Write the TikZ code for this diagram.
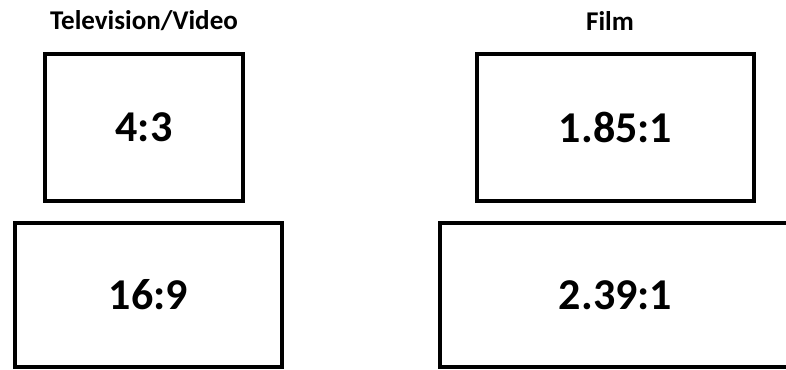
\documentclass[tikz,border=0pt]{standalone}
\usepackage{fontspec}
\setmainfont{Carlito}
\usetikzlibrary{positioning}

\begin{document}
\begin{tikzpicture}[
  x=0.75pt, y=-0.75pt,
  screen/.style={draw, line width=3.4pt, inner sep=0pt},
  ratio/.style={font=\fontsize{33}{36}\selectfont\bfseries},
  heading/.style={font=\fontsize{20.3}{23}\selectfont\bfseries}
]
  \useasboundingbox (0,0) rectangle (786,369);

  % Television / Video
  \node[heading] (tvhead) at (144, 21) {Television/Video};
  \node[screen, minimum width=148.5pt, minimum height=110pt] (tvfour) at (144, 127.5) {};
  \node[ratio] (tvfourlbl) at (tvfour) {4:3};
  \node[screen, minimum width=200pt, minimum height=108pt] (tvwide) at (148.5, 295) {};
  \node[ratio] (tvwidelbl) at (tvwide) {16:9};

  % Film
  \node[heading] (filmhead) at (610, 21) {Film};
  \node[screen, minimum width=207.7pt, minimum height=110pt] (filmflat) at (615.5, 127.5) {};
  \node[ratio] (filmflatlbl) at (filmflat) {1.85:1};
  \node[screen, minimum width=263pt, minimum height=108pt] (filmscope) at (615.5, 295) {};
  \node[ratio] (filmscopelbl) at (filmscope) {2.39:1};
\end{tikzpicture}
\end{document}
